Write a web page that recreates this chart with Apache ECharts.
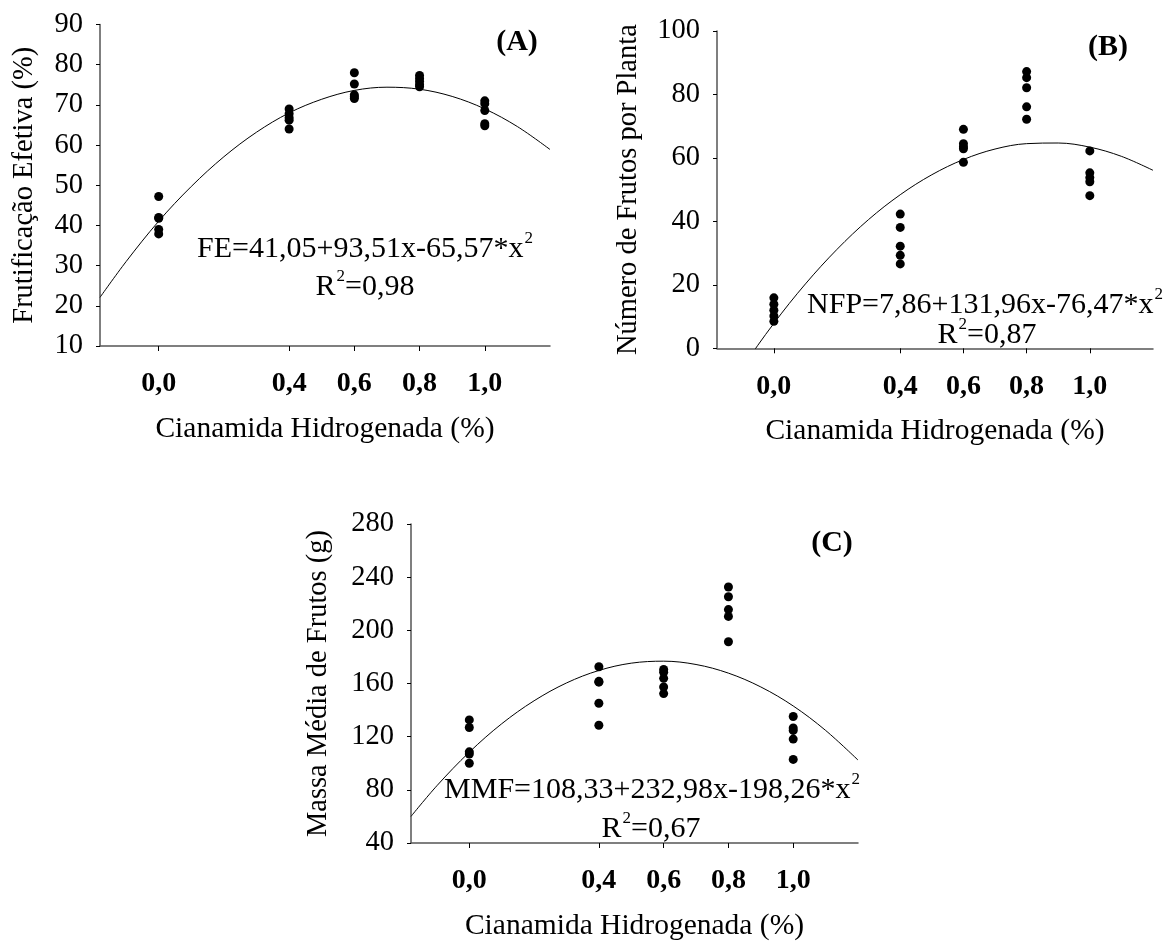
<!DOCTYPE html>
<html>
<head>
<meta charset="utf-8">
<script src="https://cdn.jsdelivr.net/npm/echarts@6/dist/echarts.min.js"></script>
<style>
  body { margin: 0; background: #fff; }
  #main { width: 1166px; height: 942px; }
</style>
</head>
<body>
<div id="main"></div>
<script>
// doses of cianamida hidrogenada (x axis)
const doses = [0, 0.4, 0.6, 0.8, 1.0];

// (A) frutificacao efetiva (%), one list per dose
const fe00 = [47.2, 42.0, 41.8, 39.0, 37.9];
const fe04 = [69.0, 67.8, 66.8, 66.2, 64.0];
const fe06 = [78.0, 75.2, 72.5, 72.0, 71.6];
const fe08 = [77.3, 76.5, 75.8, 75.0, 74.5];
const fe10 = [71.0, 70.3, 68.6, 65.3, 64.8];

// (B) numero de frutos por planta
const nfp00 = [15.9, 13.9, 12.0, 10.2, 8.5];
const nfp04 = [42.3, 38.1, 32.2, 29.3, 26.6];
const nfp06 = [69.0, 64.5, 63.5, 62.9, 58.6];
const nfp08 = [87.2, 85.3, 82.1, 76.1, 72.2];
const nfp10 = [62.2, 55.3, 53.8, 52.5, 48.1];

// (C) massa media de frutos (g)
const mmf00 = [132.6, 126.9, 108.6, 106.9, 100.0];
const mmf04 = [172.6, 161.6, 161.0, 145.1, 128.6];
const mmf06 = [170.5, 168.5, 163.9, 157.4, 152.4];
const mmf08 = [232.6, 225.3, 215.6, 210.5, 191.4];
const mmf10 = [135.2, 126.6, 124.7, 118.2, 102.9];

// fitted curves
const curveX = [-0.18, -0.1, 0, 0.1, 0.2, 0.3, 0.4, 0.5, 0.6, 0.7, 0.8, 0.9, 1.0, 1.1, 1.2];
const feCurve = [22.1, 31.0, 41.05, 49.7, 57.1, 63.2, 68.0, 71.4, 73.6, 74.4, 73.9, 72.1, 69.0, 64.6, 58.9];
const nfpCurve = [-18.4, -6.1, 7.86, 20.3, 31.2, 40.6, 48.4, 54.7, 59.5, 62.8, 64.5, 64.7, 63.4, 60.5, 56.1];
const mmfCurve = [60.0, 83.1, 108.33, 129.7, 147.0, 160.4, 169.8, 175.3, 176.8, 174.3, 167.8, 157.4, 143.1, 124.7, 102.4];

// tick labels
const xTicks = [0, 0.4, 0.6, 0.8, 1.0];
const feTicks = { min: 10, max: 90, step: 10 };
const nfpTicks = { min: 0, max: 100, step: 20 };
const mmfTicks = { min: 40, max: 280, step: 40 };

const FONT = "'Liberation Serif', 'Times New Roman', serif";

function pts(lists) {
  const out = [];
  lists.forEach((vals, i) => vals.forEach(v => out.push([doses[i], v])));
  return out;
}
function curve(vals) {
  return curveX.map((x, i) => [x, vals[i]]);
}

function xAxisFor(i) {
  return {
    type: 'value', gridIndex: i, min: -0.18, max: 1.2,
    splitLine: { show: false },
    axisLine: { onZero: false, lineStyle: { color: '#555', width: 1.5 } },
    axisTick: { customValues: xTicks, length: 5, lineStyle: { color: '#000' } },
    axisLabel: {
      customValues: xTicks, margin: 24,
      fontFamily: FONT, fontSize: 28, fontWeight: 'bold', color: '#000',
      formatter: v => v.toFixed(1).replace('.', ',')
    },
    name: 'Cianamida Hidrogenada (%)', nameLocation: 'middle', nameGap: 68,
    nameTextStyle: { fontFamily: FONT, fontSize: 29.5, color: '#000' }
  };
}
function yAxisFor(i, t, name, gap) {
  return {
    type: 'value', gridIndex: i, min: t.min, max: t.max, interval: t.step,
    splitLine: { show: false },
    axisLine: { show: true, onZero: false, lineStyle: { color: '#555', width: 1.5 } },
    axisTick: { show: true, length: 4, lineStyle: { color: '#000' } },
    axisLabel: { margin: 17, fontFamily: FONT, fontSize: 28.5, color: '#000' },
    name: name, nameLocation: 'middle', nameRotate: 90, nameGap: gap,
    nameTextStyle: { fontFamily: FONT, fontSize: 28.5, color: '#000' }
  };
}
function dots(i, data) {
  return { type: 'scatter', xAxisIndex: i, yAxisIndex: i, data: data,
    symbolSize: 9, itemStyle: { color: '#000', opacity: 1 }, z: 3 };
}
function line(i, data) {
  return { type: 'line', xAxisIndex: i, yAxisIndex: i, data: data, smooth: 0.35,
    showSymbol: false, clip: true, lineStyle: { color: '#000', width: 1 } };
}
function txt(x, y, text, bold) {
  return {
    type: 'text', x: x, y: y,
    style: {
      text: text, fontFamily: FONT, fontSize: 30, fontWeight: bold ? 'bold' : 'normal',
      fill: '#000', align: 'center', verticalAlign: 'middle',
      rich: {
        n: { fontFamily: FONT, fontSize: 30, verticalAlign: 'bottom', lineHeight: 32 },
        s: { fontFamily: FONT, fontSize: 17, verticalAlign: 'bottom', lineHeight: 32, padding: [0, 0, 17, 1] }
      }
    }
  };
}

const chart = echarts.init(document.getElementById('main'));
chart.setOption({
  animation: false,
  backgroundColor: '#fff',
  grid: [
    { left: 100, top: 24.5, width: 450, height: 321.5 },
    { left: 717, top: 31, width: 436, height: 317.3 },
    { left: 411, top: 524, width: 447, height: 320.3 }
  ],
  xAxis: [xAxisFor(0), xAxisFor(1), xAxisFor(2)],
  yAxis: [
    yAxisFor(0, feTicks, 'Frutificação Efetiva (%)', 61),
    yAxisFor(1, nfpTicks, 'Número de Frutos por Planta', 74),
    yAxisFor(2, mmfTicks, 'Massa Média de Frutos (g)', 78)
  ],
  series: [
    line(0, curve(feCurve)), dots(0, pts([fe00, fe04, fe06, fe08, fe10])),
    line(1, curve(nfpCurve)), dots(1, pts([nfp00, nfp04, nfp06, nfp08, nfp10])),
    line(2, curve(mmfCurve)), dots(2, pts([mmf00, mmf04, mmf06, mmf08, mmf10]))
  ],
  graphic: [
    txt(517, 42, '(A)', true),
    txt(1108, 47, '(B)', true),
    txt(832, 543, '(C)', true),
    txt(365, 248, '{n|FE=41,05+93,51x-65,57*x}{s|2}'),
    txt(365, 286, '{n|R}{s|2}{n|=0,98}'),
    txt(985, 304, '{n|NFP=7,86+131,96x-76,47*x}{s|2}'),
    txt(987, 334, '{n|R}{s|2}{n|=0,87}'),
    txt(652, 789, '{n|MMF=108,33+232,98x-198,26*x}{s|2}'),
    txt(651, 828, '{n|R}{s|2}{n|=0,67}')
  ]
});
</script>
</body>
</html>
